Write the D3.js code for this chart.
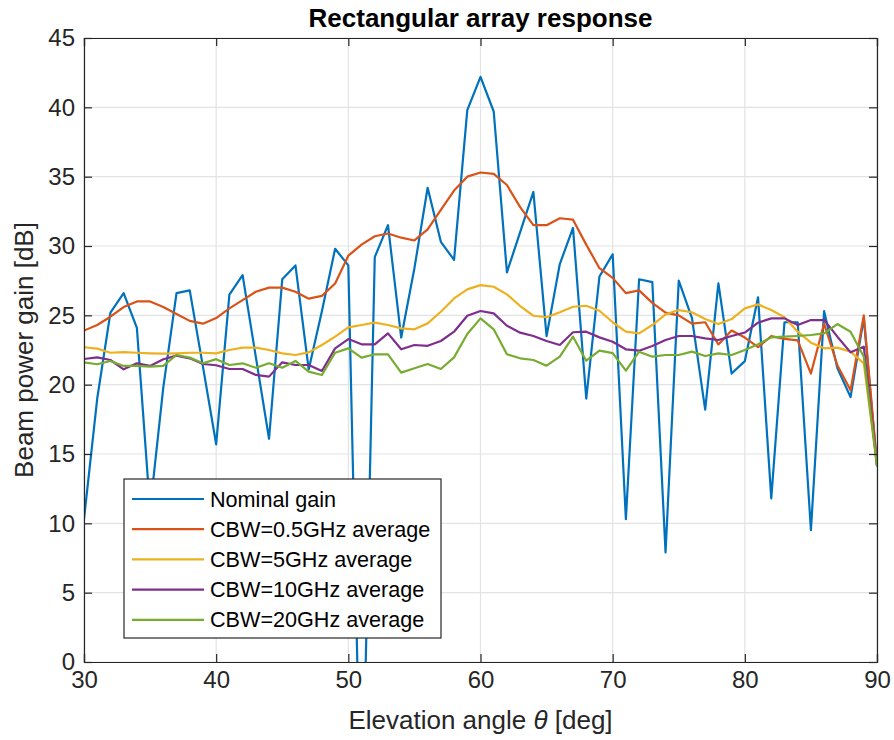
<!DOCTYPE html>
<html>
<head>
<meta charset="utf-8">
<script src="https://cdn.jsdelivr.net/npm/d3@7"></script>
<style>
  html, body { margin: 0; padding: 0; background: #fff; }
  svg { display: block; font-family: "Liberation Sans", Arial, Helvetica, sans-serif; }
</style>
</head>
<body>
<svg id="chart" width="894" height="740"></svg>
<script>
// Elevation angles (deg)
const angles = d3.range(30, 91);

// Beam power gain (dB) per elevation angle
const nominalGain = [10.3, 19.0, 25.2, 26.6, 24.1, 11.0, 19.8, 26.6, 26.8, 21.3,
  15.7, 26.5, 27.9, 22.0, 16.1, 27.6, 28.6, 21.1, 25.3, 29.8,
  28.6, -13.5, 29.2, 31.5, 23.4, 28.4, 34.2, 30.3, 29.0, 39.8,
  42.2, 39.7, 28.1, 31.0, 33.9, 23.5, 28.7, 31.3, 19.0, 27.8,
  29.4, 10.3, 27.6, 27.4, 7.9, 27.5, 24.8, 18.2, 27.3, 20.8,
  21.7, 26.3, 11.8, 24.5, 24.5, 9.5, 25.3, 21.2, 19.1, 24.8, 14.1];

const cbw05Avg = [23.9, 24.3, 24.9, 25.6, 26.0, 26.0, 25.6, 25.1, 24.6, 24.4,
  24.8, 25.5, 26.1, 26.7, 27.0, 27.0, 26.7, 26.2, 26.4, 27.3,
  29.3, 30.1, 30.7, 30.9, 30.6, 30.4, 31.2, 32.6, 34.0, 35.0,
  35.3, 35.2, 34.4, 32.8, 31.5, 31.5, 32.0, 31.9, 30.1, 28.4,
  27.7, 26.6, 26.8, 25.9, 25.2, 25.0, 24.4, 24.5, 22.9, 23.9,
  23.4, 22.7, 23.5, 23.3, 23.2, 20.8, 24.4, 21.4, 19.6, 25.0, 14.3];

const cbw5Avg = [22.7, 22.6, 22.3, 22.35, 22.3, 22.26, 22.24, 22.26, 22.3, 22.3,
  22.26, 22.5, 22.67, 22.67, 22.5, 22.26, 22.14, 22.33, 22.86, 23.46,
  24.13, 24.3, 24.47, 24.3, 24.06, 23.99, 24.42, 25.26, 26.22, 26.87,
  27.18, 27.06, 26.51, 25.67, 24.97, 24.86, 25.22, 25.62, 25.69, 25.33,
  24.5, 23.82, 23.7, 24.3, 25.07, 25.38, 25.22, 24.73, 24.37, 24.73,
  25.5, 25.79, 25.38, 24.86, 23.82, 23.03, 22.62, 22.67, 22.38, 21.54, 14.2];

const cbw10Avg = [21.85, 21.97, 21.78, 21.11, 21.54, 21.35, 21.83, 22.09, 21.9, 21.49,
  21.4, 21.13, 21.13, 20.7, 20.58, 21.61, 21.42, 21.42, 20.99, 22.62,
  23.29, 22.91, 22.91, 23.7, 22.55, 22.86, 22.8, 23.15, 23.82, 24.97,
  25.31, 25.14, 24.25, 23.75, 23.51, 23.15, 22.86, 23.78, 23.82, 23.41,
  23.1, 22.55, 22.45, 22.79, 23.22, 23.51, 23.51, 23.34, 23.22, 23.51,
  23.76, 24.47, 24.78, 24.78, 24.3, 24.66, 24.66, 23.46, 22.33, 22.74, 14.2];

const cbw20Avg = [21.61, 21.47, 21.71, 21.35, 21.35, 21.3, 21.35, 22.14, 21.95, 21.54,
  21.84, 21.42, 21.54, 21.22, 21.54, 21.22, 21.71, 20.94, 20.7, 22.3,
  22.62, 21.95, 22.19, 22.19, 20.87, 21.18, 21.49, 21.13, 21.97, 23.65,
  24.78, 23.99, 22.19, 21.9, 21.78, 21.37, 22.02, 23.46, 21.73, 22.45,
  22.28, 21.01, 22.38, 22.02, 22.14, 22.14, 22.38, 22.07, 22.26, 22.14,
  22.5, 22.91, 23.41, 23.46, 23.51, 23.58, 23.7, 24.37, 23.82, 22.02, 14.1];

const seriesNames = ["Nominal gain", "CBW=0.5GHz average", "CBW=5GHz average",
  "CBW=10GHz average", "CBW=20GHz average"];
const seriesValues = [nominalGain, cbw05Avg, cbw5Avg, cbw10Avg, cbw20Avg];
const seriesColors = ["#0072BD", "#D95319", "#EDB120", "#7E2F8E", "#77AC30"];

const xTicks = [30, 40, 50, 60, 70, 80, 90];
const yTicks = d3.range(0, 46, 5);

const svg = d3.select("#chart");
const plotL = 84, plotR = 877, plotT = 38, plotB = 662;
const axisColor = "#262626";

const x = d3.scaleLinear().domain([30, 90]).range([plotL, plotR]);
const y = d3.scaleLinear().domain([0, 45]).range([plotB, plotT]);

// grid
const grid = svg.append("g");
grid.selectAll("line.gx").data(xTicks).join("line")
  .attr("x1", d => x(d)).attr("x2", d => x(d))
  .attr("y1", plotT).attr("y2", plotB)
  .attr("stroke", "#e3e3e3").attr("stroke-width", 1.2);
grid.selectAll("line.gy").data(yTicks).join("line")
  .attr("y1", d => y(d)).attr("y2", d => y(d))
  .attr("x1", plotL).attr("x2", plotR)
  .attr("stroke", "#e3e3e3").attr("stroke-width", 1.2);

// data lines, clipped to the axes box
svg.append("clipPath").attr("id", "plotClip")
  .append("rect").attr("x", plotL).attr("y", plotT)
  .attr("width", plotR - plotL).attr("height", plotB - plotT);

const line = d3.line().x((d, i) => x(angles[i])).y(d => y(d));
const lines = svg.append("g").attr("clip-path", "url(#plotClip)");
seriesValues.forEach((vals, k) => {
  lines.append("path")
    .datum(vals)
    .attr("d", line)
    .attr("fill", "none")
    .attr("stroke", seriesColors[k])
    .attr("stroke-width", 2.2)
    .attr("stroke-linejoin", "round");
});

// axes (box with inward ticks on all sides)
const tickLen = 8;
const fmt = d3.format("d");
const xAxisB = d3.axisBottom(x).tickValues(xTicks).tickSize(-tickLen).tickPadding(9).tickFormat(fmt);
const xAxisT = d3.axisTop(x).tickValues(xTicks).tickSize(-tickLen).tickFormat("");
const yAxisL = d3.axisLeft(y).tickValues(yTicks).tickSize(-tickLen).tickPadding(9).tickFormat(fmt);
const yAxisR = d3.axisRight(y).tickValues(yTicks).tickSize(-tickLen).tickFormat("");

function styleAxis(g) {
  g.selectAll("path.domain").attr("stroke", axisColor).attr("stroke-width", 1.2);
  g.selectAll(".tick line").attr("stroke", axisColor).attr("stroke-width", 1.2);
  g.selectAll(".tick text").attr("fill", axisColor)
    .style("font-size", "24px").style("font-family", "'Liberation Sans', Arial, sans-serif");
}
svg.append("g").attr("transform", `translate(0,${plotB})`).call(xAxisB).call(styleAxis);
svg.append("g").attr("transform", `translate(0,${plotT})`).call(xAxisT).call(styleAxis);
svg.append("g").attr("transform", `translate(${plotL},0)`).call(yAxisL).call(styleAxis);
svg.append("g").attr("transform", `translate(${plotR},0)`).call(yAxisR).call(styleAxis);

// title and axis labels
svg.append("text")
  .attr("x", (plotL + plotR) / 2).attr("y", 27)
  .attr("text-anchor", "middle")
  .attr("fill", "#000")
  .style("font-size", "26px").style("font-weight", "bold")
  .text("Rectangular array response");

const xl = svg.append("text")
  .attr("x", (plotL + plotR) / 2).attr("y", 729)
  .attr("text-anchor", "middle")
  .attr("fill", axisColor)
  .style("font-size", "26px");
xl.append("tspan").text("Elevation angle ");
xl.append("tspan").style("font-style", "italic").text("θ");
xl.append("tspan").text(" [deg]");

svg.append("text")
  .attr("transform", `translate(33,${(plotT + plotB) / 2}) rotate(-90)`)
  .attr("text-anchor", "middle")
  .attr("fill", axisColor)
  .style("font-size", "26px")
  .text("Beam power gain [dB]");

// legend
const lgX = 124, lgY = 479, lgW = 317, lgH = 159;
const legend = svg.append("g");
legend.append("rect")
  .attr("x", lgX).attr("y", lgY).attr("width", lgW).attr("height", lgH)
  .attr("fill", "#fff").attr("stroke", axisColor).attr("stroke-width", 1.2);
seriesNames.forEach((name, k) => {
  const cy = 499 + k * 30.2;
  legend.append("line")
    .attr("x1", 132).attr("x2", 204).attr("y1", cy).attr("y2", cy)
    .attr("stroke", seriesColors[k]).attr("stroke-width", 2.2);
  legend.append("text")
    .attr("x", 210).attr("y", cy + 7.5)
    .attr("fill", "#000")
    .style("font-size", "21.6px")
    .text(name);
});
</script>
</body>
</html>
